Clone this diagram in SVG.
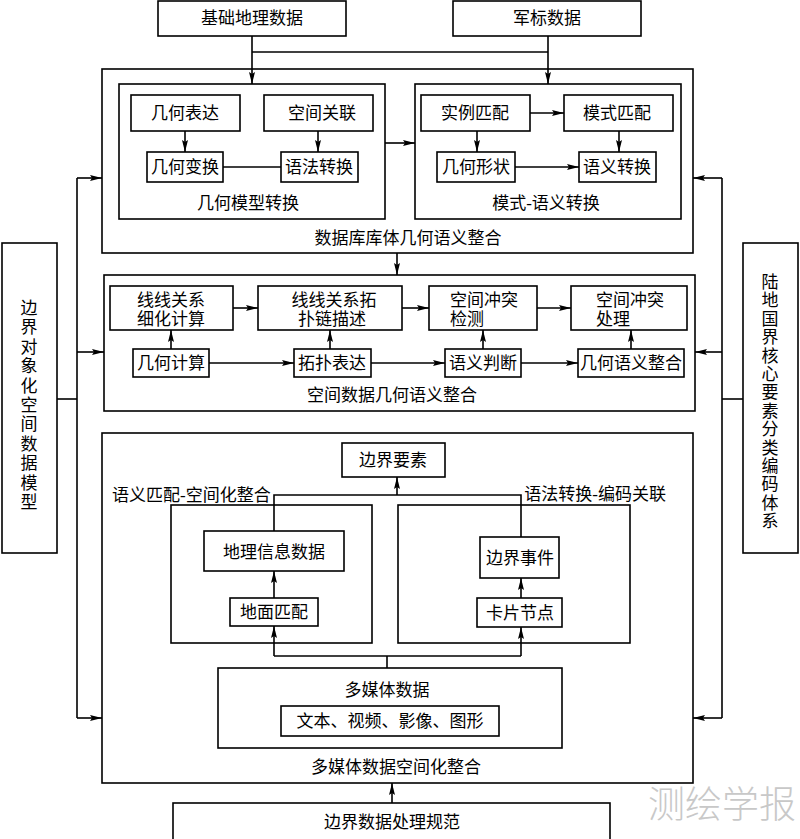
<svg xmlns="http://www.w3.org/2000/svg" width="800" height="839" viewBox="0 0 800 839">
<defs>
<marker id="ah" viewBox="0 0 12 6" refX="12" refY="3" markerWidth="12" markerHeight="6" markerUnits="userSpaceOnUse" orient="auto"><path d="M0,0 L12,3 L0,6 L2,3 Z" fill="#000"/></marker>
<style>
rect{fill:#fff;stroke:#000;stroke-width:1.6}
rect.c{fill:none}
text{font-family:"Liberation Serif","Noto Sans CJK SC",serif;font-size:17px;fill:#000}
.m{text-anchor:middle}
.e{text-anchor:end}
#connectors path{fill:none;stroke:#000;stroke-width:1.6}
#connectors path.a{marker-end:url(#ah)}
.wm{font-family:"Noto Sans CJK SC",sans-serif;font-size:37px;fill:#c8c8c8;font-weight:300}
</style>
</defs>
<rect x="0" y="0" width="800" height="839" style="fill:#fff;stroke:none"/>

<g id="box-outer1"><rect class="c" x="102" y="69" width="591" height="184"/><text class="m" x="408" y="244">数据库库体几何语义整合</text></g>
<g id="box-geomodel"><rect class="c" x="119" y="84" width="266" height="135"/><text class="m" x="248" y="209">几何模型转换</text></g>
<g id="box-schema"><rect class="c" x="415" y="84" width="266" height="135"/><text class="m" x="546" y="209">模式-语义转换</text></g>
<g id="box-outer2"><rect class="c" x="104" y="275" width="591" height="136"/><text class="m" x="392" y="401">空间数据几何语义整合</text></g>
<g id="box-outer3"><rect class="c" x="102" y="433" width="591" height="350"/><text class="m" x="396" y="773">多媒体数据空间化整合</text></g>
<g id="box-semmatch"><rect class="c" x="171" y="505" width="201" height="138"/><text x="112" y="501">语义匹配-空间化整合</text></g>
<g id="box-syntax"><rect class="c" x="398" y="505" width="232" height="138"/><text class="e" x="666" y="500">语法转换-编码关联</text></g>

<g id="n-jichu"><rect x="158" y="1" width="188" height="35"/><text class="m" x="252" y="24">基础地理数据</text></g>
<g id="n-junbiao"><rect x="453" y="1" width="188" height="35"/><text class="m" x="547" y="24">军标数据</text></g>

<g id="n-jhbd"><rect x="131" y="95" width="109" height="36"/><text class="m" x="185" y="119">几何表达</text></g>
<g id="n-kjgl"><rect x="264" y="95" width="109" height="36"/><text class="m" x="322" y="119">空间关联</text></g>
<g id="n-jhbh"><rect x="147" y="152" width="76" height="30"/><text class="m" x="185" y="173">几何变换</text></g>
<g id="n-yfzh"><rect x="281" y="152" width="77" height="30"/><text class="m" x="319" y="173">语法转换</text></g>

<g id="n-slpp"><rect x="421" y="95" width="109" height="36"/><text class="m" x="475" y="119">实例匹配</text></g>
<g id="n-mspp"><rect x="564" y="95" width="109" height="36"/><text class="m" x="617" y="119">模式匹配</text></g>
<g id="n-jhxz"><rect x="437" y="152" width="78" height="30"/><text class="m" x="476" y="173">几何形状</text></g>
<g id="n-yyzh"><rect x="579" y="152" width="77" height="30"/><text class="m" x="617" y="173">语义转换</text></g>

<g id="n-xxxh"><rect x="110" y="286" width="123" height="44"/><text class="m" x="171" y="306">线线关系</text><text class="m" x="171" y="325">细化计算</text></g>
<g id="n-xxtp"><rect x="258" y="286" width="144" height="44"/><text class="m" x="334" y="306">线线关系拓</text><text class="m" x="332" y="325">扑链描述</text></g>
<g id="n-ctjc"><rect x="429" y="286" width="108" height="44"/><text x="450" y="306">空间冲突</text><text x="450" y="325">检测</text></g>
<g id="n-ctcl"><rect x="571" y="286" width="116" height="44"/><text x="596" y="306">空间冲突</text><text x="596" y="325">处理</text></g>
<g id="n-jhjs"><rect x="133" y="349" width="76" height="28"/><text class="m" x="171" y="369">几何计算</text></g>
<g id="n-tpbd"><rect x="294" y="349" width="77" height="28"/><text class="m" x="332" y="369">拓扑表达</text></g>
<g id="n-yypd"><rect x="445" y="349" width="76" height="28"/><text class="m" x="483" y="369">语义判断</text></g>
<g id="n-jhyy"><rect x="578" y="349" width="106" height="28"/><text class="m" x="631" y="369">几何语义整合</text></g>

<g id="n-bjys"><rect x="342" y="443" width="103" height="34"/><text class="m" x="393" y="466">边界要素</text></g>
<g id="n-dlxx"><rect x="204" y="531" width="140" height="40"/><text class="m" x="274" y="558">地理信息数据</text></g>
<g id="n-dmpp"><rect x="230" y="598" width="88" height="28"/><text class="m" x="274" y="618">地面匹配</text></g>
<g id="n-bjsj"><rect x="480" y="537" width="79" height="41"/><text class="m" x="520" y="564">边界事件</text></g>
<g id="n-kpjd"><rect x="477" y="598" width="85" height="29"/><text class="m" x="520" y="619">卡片节点</text></g>
<g id="n-dmt"><rect x="218" y="668" width="344" height="80"/><text class="m" x="387" y="696">多媒体数据</text></g>
<g id="n-wb"><rect x="281" y="706" width="218" height="30"/><text class="m" x="390" y="727">文本、视频、影像、图形</text></g>

<g id="n-gf"><rect x="173" y="803" width="437" height="40"/><text class="m" x="392" y="828">边界数据处理规范</text></g>

<g id="n-left"><rect x="2" y="243" width="55" height="310"/>
<text class="m"><tspan x="29" y="314">边</tspan><tspan x="29" y="333.4">界</tspan><tspan x="29" y="352.8">对</tspan><tspan x="29" y="372.2">象</tspan><tspan x="29" y="391.6">化</tspan><tspan x="29" y="411">空</tspan><tspan x="29" y="430.4">间</tspan><tspan x="29" y="449.8">数</tspan><tspan x="29" y="469.2">据</tspan><tspan x="29" y="488.6">模</tspan><tspan x="29" y="508">型</tspan></text></g>
<g id="n-right"><rect x="743" y="243" width="55" height="310"/>
<text class="m"><tspan x="770" y="288">陆</tspan><tspan x="770" y="306.4">地</tspan><tspan x="770" y="324.8">国</tspan><tspan x="770" y="343.2">界</tspan><tspan x="770" y="361.6">核</tspan><tspan x="770" y="380">心</tspan><tspan x="770" y="398.4">要</tspan><tspan x="770" y="416.8">素</tspan><tspan x="770" y="435.2">分</tspan><tspan x="770" y="453.6">类</tspan><tspan x="770" y="472">编</tspan><tspan x="770" y="490.4">码</tspan><tspan x="770" y="508.8">体</tspan><tspan x="770" y="527.2">系</tspan></text></g>

<g id="connectors">
<path class="a" d="M252,36 V84"/>
<path class="a" d="M548,36 V84"/>
<path d="M252,52 H548"/>
<path class="a" d="M185,131 V152"/>
<path class="a" d="M318,131 V152"/>
<path d="M223,167 H281"/>
<path class="a" d="M385,143 H415"/>
<path class="a" d="M530,113 H564"/>
<path class="a" d="M477,131 V152"/>
<path class="a" d="M619,131 V152"/>
<path class="a" d="M515,167 H579"/>
<path class="a" d="M397,253 V275"/>
<path class="a" d="M233,308 H258"/>
<path class="a" d="M402,308 H429"/>
<path class="a" d="M537,308 H571"/>
<path class="a" d="M171,349 V330"/>
<path class="a" d="M330,349 V330"/>
<path class="a" d="M483,349 V330"/>
<path class="a" d="M631,349 V330"/>
<path class="a" d="M209,363 H294"/>
<path class="a" d="M371,363 H445"/>
<path class="a" d="M521,363 H578"/>
<path d="M57,399 H77"/>
<path d="M77,178 V718"/>
<path class="a" d="M77,178 H102"/>
<path class="a" d="M77,352 H104"/>
<path class="a" d="M77,718 H102"/>
<path d="M743,399 H722"/>
<path d="M722,178 V718"/>
<path class="a" d="M722,178 H693"/>
<path class="a" d="M722,352 H695"/>
<path class="a" d="M722,718 H693"/>
<path d="M274,531 V495 H521 V537"/>
<path class="a" d="M397,495 V477"/>
<path class="a" d="M274,598 V571"/>
<path class="a" d="M521,598 V578"/>
<path d="M387,668 V656"/>
<path d="M274,656 H521"/>
<path class="a" d="M274,656 V626"/>
<path class="a" d="M521,656 V627"/>
<path class="a" d="M392,803 V783"/>
</g>

<text class="wm" x="648" y="818">测绘学报</text>
</svg>
